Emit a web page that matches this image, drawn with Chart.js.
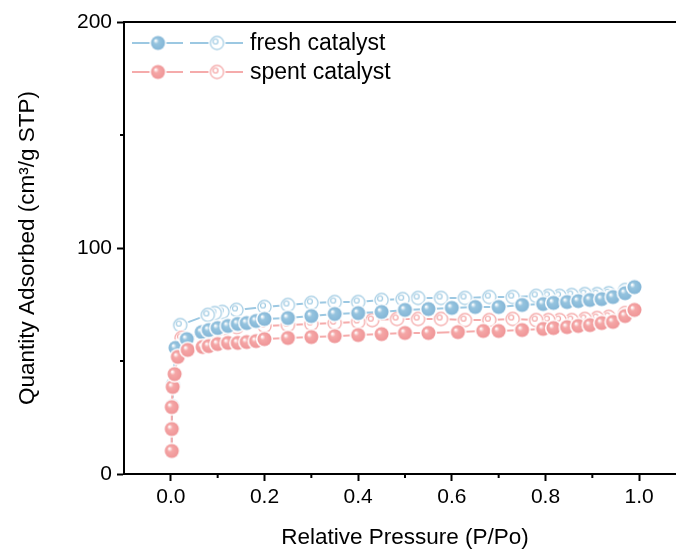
<!DOCTYPE html>
<html>
<head>
<meta charset="utf-8">
<script src="https://cdn.jsdelivr.net/npm/chart.js@4"></script>
<style>
  html, body { margin: 0; padding: 0; background: #fff; overflow: hidden; }
  #wrap { width: 700px; height: 551px; }
</style>
</head>
<body>
<div id="wrap"><canvas id="isoChart" width="700" height="551"></canvas></div>
<script>
// N2 isotherm, fresh vs spent catalyst. Filled = adsorption, open = desorption.

const X_TICKS = [0, 0.2, 0.4, 0.6, 0.8, 1.0];
const X_MINOR = [0.1, 0.3, 0.5, 0.7, 0.9];
const Y_TICKS = [0, 100, 200];
const Y_MINOR = [50, 150];

const freshAdsP = [0.002, 0.002, 0.003, 0.004, 0.01, 0.034, 0.066, 0.081, 0.1, 0.122, 0.143, 0.162, 0.182, 0.2,
                   0.25, 0.3, 0.35, 0.4, 0.45, 0.5, 0.55, 0.6, 0.65, 0.7, 0.75, 0.795, 0.817, 0.846, 0.87,
                   0.895, 0.92, 0.944, 0.97, 0.99];
const freshAdsQ = [10, 20, 30, 39.5, 55.8, 59.7, 62.8, 63.7, 64.6, 65.5, 66.4, 66.8, 67.7, 68.6,
                   69.0, 69.9, 70.8, 71.2, 71.7, 72.6, 73.0, 73.5, 73.9, 73.9, 74.8, 75.2, 75.7, 76.1, 76.5,
                   77.0, 77.4, 78.3, 80.0, 82.7];

const freshDesP = [0.99, 0.97, 0.935, 0.91, 0.884, 0.856, 0.83, 0.806, 0.78, 0.73, 0.68, 0.628, 0.577, 0.528,
                   0.495, 0.45, 0.4, 0.35, 0.3, 0.25, 0.2, 0.14, 0.11, 0.094, 0.079, 0.02];
const freshDesQ = [82.7, 81.4, 80.0, 79.6, 79.6, 79.2, 78.8, 78.8, 78.8, 78.3, 78.3, 77.9, 77.9, 77.9,
                   77.4, 77.0, 76.1, 76.1, 75.7, 74.8, 73.9, 72.6, 71.7, 71.2, 70.4, 65.9];

const spentAdsP = [0.002, 0.002, 0.002, 0.004, 0.008, 0.015, 0.036, 0.068, 0.081, 0.1, 0.122, 0.143, 0.162,
                   0.182, 0.2, 0.25, 0.3, 0.35, 0.4, 0.45, 0.5, 0.55, 0.613, 0.667, 0.7, 0.75, 0.795, 0.817,
                   0.846, 0.87, 0.895, 0.92, 0.944, 0.97, 0.99];
const spentAdsQ = [10.2, 19.9, 29.6, 38.5, 44.2, 51.8, 54.9, 56.2, 56.6, 57.5, 58.0, 58.0, 58.4,
                   58.8, 59.7, 60.2, 60.6, 61.0, 61.5, 61.9, 62.4, 62.4, 62.8, 63.3, 63.3, 63.7, 64.2, 64.6,
                   65.0, 65.5, 65.9, 66.8, 67.3, 69.9, 72.6];

const spentDesP = [0.99, 0.97, 0.935, 0.91, 0.884, 0.856, 0.83, 0.806, 0.78, 0.73, 0.68, 0.628, 0.577, 0.528,
                   0.483, 0.43, 0.4, 0.35, 0.3, 0.25, 0.2, 0.141, 0.115, 0.098, 0.079, 0.023];
const spentDesQ = [72.6, 71.2, 69.5, 69.0, 68.6, 68.1, 68.1, 68.1, 68.1, 68.6, 68.1, 68.1, 68.6, 68.6,
                   68.6, 68.1, 67.3, 66.8, 66.4, 65.9, 65.5, 65.0, 64.6, 63.7, 62.4, 60.2];

const BLUE_LINE = '#9cc8e2';
const PINK_LINE = '#f5abab';
const FONT = '"Liberation Sans", Arial, sans-serif';

function pairs(xs, ys) {
    return xs.map((x, i) => ({ x, y: ys[i] }));
}

// shaded ball like Origin's "sphere" symbol, with a thin white gap round it
function makeBall(base, edge) {
    const c = document.createElement('canvas');
    c.width = 19; c.height = 19;
    const g = c.getContext('2d');
    g.fillStyle = '#fff';
    g.beginPath(); g.arc(9.5, 9.5, 8.6, 0, Math.PI * 2); g.fill();
    const grad = g.createRadialGradient(7, 7, 0.5, 9.5, 9.5, 7.5);
    grad.addColorStop(0, '#ffffff');
    grad.addColorStop(0.3, base);
    grad.addColorStop(1, edge);
    g.fillStyle = grad;
    g.beginPath(); g.arc(9.5, 9.5, 7, 0, Math.PI * 2); g.fill();
    return c;
}

function makeRing(color) {
    const c = document.createElement('canvas');
    c.width = 19; c.height = 19;
    const g = c.getContext('2d');
    g.fillStyle = '#fff';
    g.beginPath(); g.arc(9.5, 9.5, 8.6, 0, Math.PI * 2); g.fill();
    g.strokeStyle = color;
    g.lineWidth = 1.2;
    g.beginPath(); g.arc(9.5, 9.5, 6.6, 0, Math.PI * 2); g.stroke();
    g.beginPath(); g.arc(8, 8, 2.5, 0, Math.PI * 2); g.stroke();
    return c;
}

const ballBlue = makeBall('#96c4df', '#82b5d6');
const ballPink = makeBall('#f5a7a7', '#ef9496');
const ringBlue = makeRing('#a0cbe3');
const ringPink = makeRing('#f4a2a2');

function series(data, line, marker) {
    return {
        data, borderColor: line, borderWidth: 2, pointStyle: marker,
        pointRadius: 7, pointHoverRadius: 7, showLine: true, tension: 0, clip: false
    };
}

// top frame line, minor ticks and the custom two-marker legend
const extrasPlugin = {
    id: 'extras',
    afterDraw(chart) {
        const { ctx, chartArea: a, scales: { x, y } } = chart;
        ctx.save();
        ctx.strokeStyle = '#000';
        ctx.lineWidth = 2;
        ctx.beginPath();
        ctx.moveTo(a.left - 1, a.top); ctx.lineTo(a.right, a.top);
        X_MINOR.forEach(v => {
            const px = x.getPixelForValue(v);
            ctx.moveTo(px, a.bottom); ctx.lineTo(px, a.bottom + 4);
        });
        Y_MINOR.forEach(v => {
            const py = y.getPixelForValue(v);
            ctx.moveTo(a.left, py); ctx.lineTo(a.left - 4, py);
        });
        ctx.stroke();

        const rows = [
            { y: 43, line: BLUE_LINE, ball: ballBlue, ring: ringBlue, text: 'fresh catalyst' },
            { y: 72, line: PINK_LINE, ball: ballPink, ring: ringPink, text: 'spent catalyst' }
        ];
        ctx.font = '23px ' + FONT;
        ctx.textBaseline = 'middle';
        ctx.fillStyle = '#000';
        rows.forEach(r => {
            ctx.strokeStyle = r.line;
            ctx.lineWidth = 2;
            ctx.beginPath();
            ctx.moveTo(132, r.y); ctx.lineTo(183, r.y);
            ctx.moveTo(190, r.y); ctx.lineTo(243, r.y);
            ctx.stroke();
            ctx.drawImage(r.ball, 158 - 9.5, r.y - 9.5);
            ctx.drawImage(r.ring, 217 - 9.5, r.y - 9.5);
            ctx.fillText(r.text, 250, r.y + 1);
        });
        ctx.restore();
    }
};

new Chart(document.getElementById('isoChart'), {
    type: 'scatter',
    data: {
        datasets: [
            series(pairs(spentAdsP, spentAdsQ), PINK_LINE, ballPink),
            series(pairs(freshAdsP, freshAdsQ), BLUE_LINE, ballBlue),
            series(pairs(spentDesP, spentDesQ), PINK_LINE, ringPink),
            series(pairs(freshDesP, freshDesQ), BLUE_LINE, ringBlue)
        ]
    },
    options: {
        responsive: false,
        animation: false,
        events: [],
        layout: { padding: { top: 22, right: 14, left: 0, bottom: 0 } },
        plugins: { legend: { display: false }, tooltip: { enabled: false } },
        scales: {
            x: {
                type: 'linear', min: -0.1, max: 1.1,
                afterBuildTicks: s => { s.ticks = X_TICKS.map(v => ({ value: v })); },
                afterFit: s => { s.height = 77; },
                ticks: {
                    autoSkip: false, maxRotation: 0, padding: 4, color: '#000',
                    font: { family: FONT, size: 21 },
                    callback: v => Number(v).toFixed(1)
                },
                grid: { drawOnChartArea: false, drawTicks: true, tickLength: 7, tickWidth: 2, tickColor: '#000' },
                border: { display: true, color: '#000', width: 2 },
                title: {
                    display: true, text: 'Relative Pressure (P/Po)', color: '#000',
                    font: { family: FONT, size: 22.5 }, padding: { top: 6, bottom: 0 }
                }
            },
            y: {
                type: 'linear', min: 0, max: 200,
                afterBuildTicks: s => { s.ticks = Y_TICKS.map(v => ({ value: v })); },
                afterFit: s => { s.width = 124; },
                ticks: {
                    autoSkip: false, padding: 5, color: '#000',
                    font: { family: FONT, size: 21 }
                },
                grid: { drawOnChartArea: false, drawTicks: true, tickLength: 7, tickWidth: 2, tickColor: '#000' },
                border: { display: true, color: '#000', width: 2 },
                title: {
                    display: true, text: 'Quantity Adsorbed (cm³/g STP)', color: '#000',
                    font: { family: FONT, size: 22.5 }, padding: { top: 14, bottom: 0 }
                }
            }
        }
    },
    plugins: [extrasPlugin]
});
</script>
</body>
</html>
